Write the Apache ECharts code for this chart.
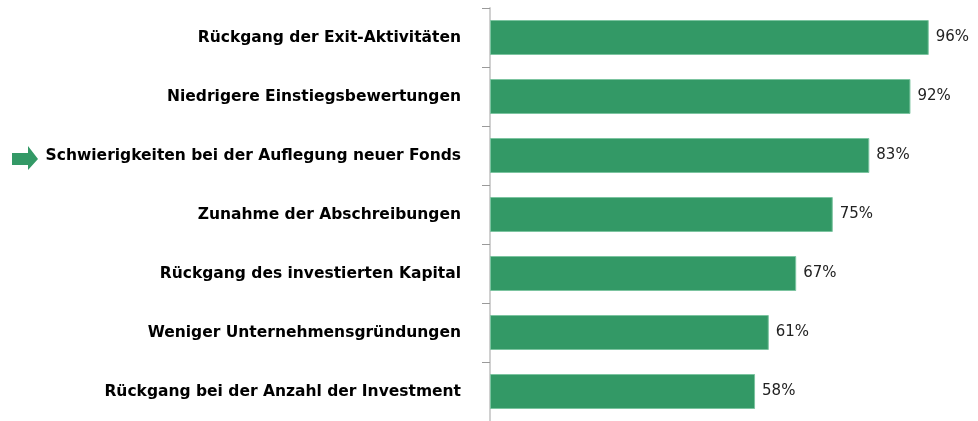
<!DOCTYPE html>
<html>
<head>
<meta charset="utf-8">
<script src="https://cdn.jsdelivr.net/npm/echarts@6/dist/echarts.min.js"></script>
<style>
  html, body { margin: 0; padding: 0; background: #fff; }
  #barChart { width: 978px; height: 421px; }
</style>
</head>
<body>
<div id="barChart"></div>
<script>
// categories listed bottom to top (category axis on y runs upward)
var categories = [
    'Rückgang bei der Anzahl der Investment',
    'Weniger Unternehmensgründungen',
    'Rückgang des investierten Kapital',
    'Zunahme der Abschreibungen',
    'Schwierigkeiten bei der Auflegung neuer Fonds',
    'Niedrigere Einstiegsbewertungen',
    'Rückgang der Exit-Aktivitäten'
];
var shares = [58, 61, 67, 75, 83, 92, 96];

var dom = document.getElementById("barChart");
var myChart = echarts.init(dom);
var option = {
    animation: false,
    grid: {
        left: 490,
        right: 31,
        top: 8,
        bottom: -3,
        containLabel: false
    },
    xAxis: {
        type: 'value',
        min: 0,
        max: 100,
        show: false
    },
    yAxis: {
        type: 'category',
        data: categories,
        axisLine: {
            show: true,
            lineStyle: {color: '#d0d0d0', width: 2}
        },
        axisTick: {
            show: true,
            length: 8,
            lineStyle: {color: '#9a9a9a'}
        },
        axisLabel: {
            margin: 29,
            color: '#000',
            fontWeight: 'bold',
            fontFamily: 'DejaVu Sans',
            fontSize: 15.5
        }
    },
    series: [
        {
            type: 'bar',
            data: shares,
            barWidth: 35,
            itemStyle: {
                color: '#339966',
                borderColor: '#7cc4a0',
                borderWidth: 1
            },
            label: {
                show: true,
                position: 'right',
                distance: 7,
                formatter: '{c}%',
                color: '#222',
                fontFamily: 'DejaVu Sans',
                fontSize: 15
            }
        }
    ],
    graphic: [
        {
            type: 'polygon',
            shape: {
                points: [[12, 153], [28, 153], [28, 146], [38, 159], [28, 170], [28, 165], [12, 165]]
            },
            style: {fill: '#339966'}
        }
    ]
};
myChart.setOption(option, true);

window.onresize = function () {
    myChart.resize();
};
</script>
</body>
</html>
